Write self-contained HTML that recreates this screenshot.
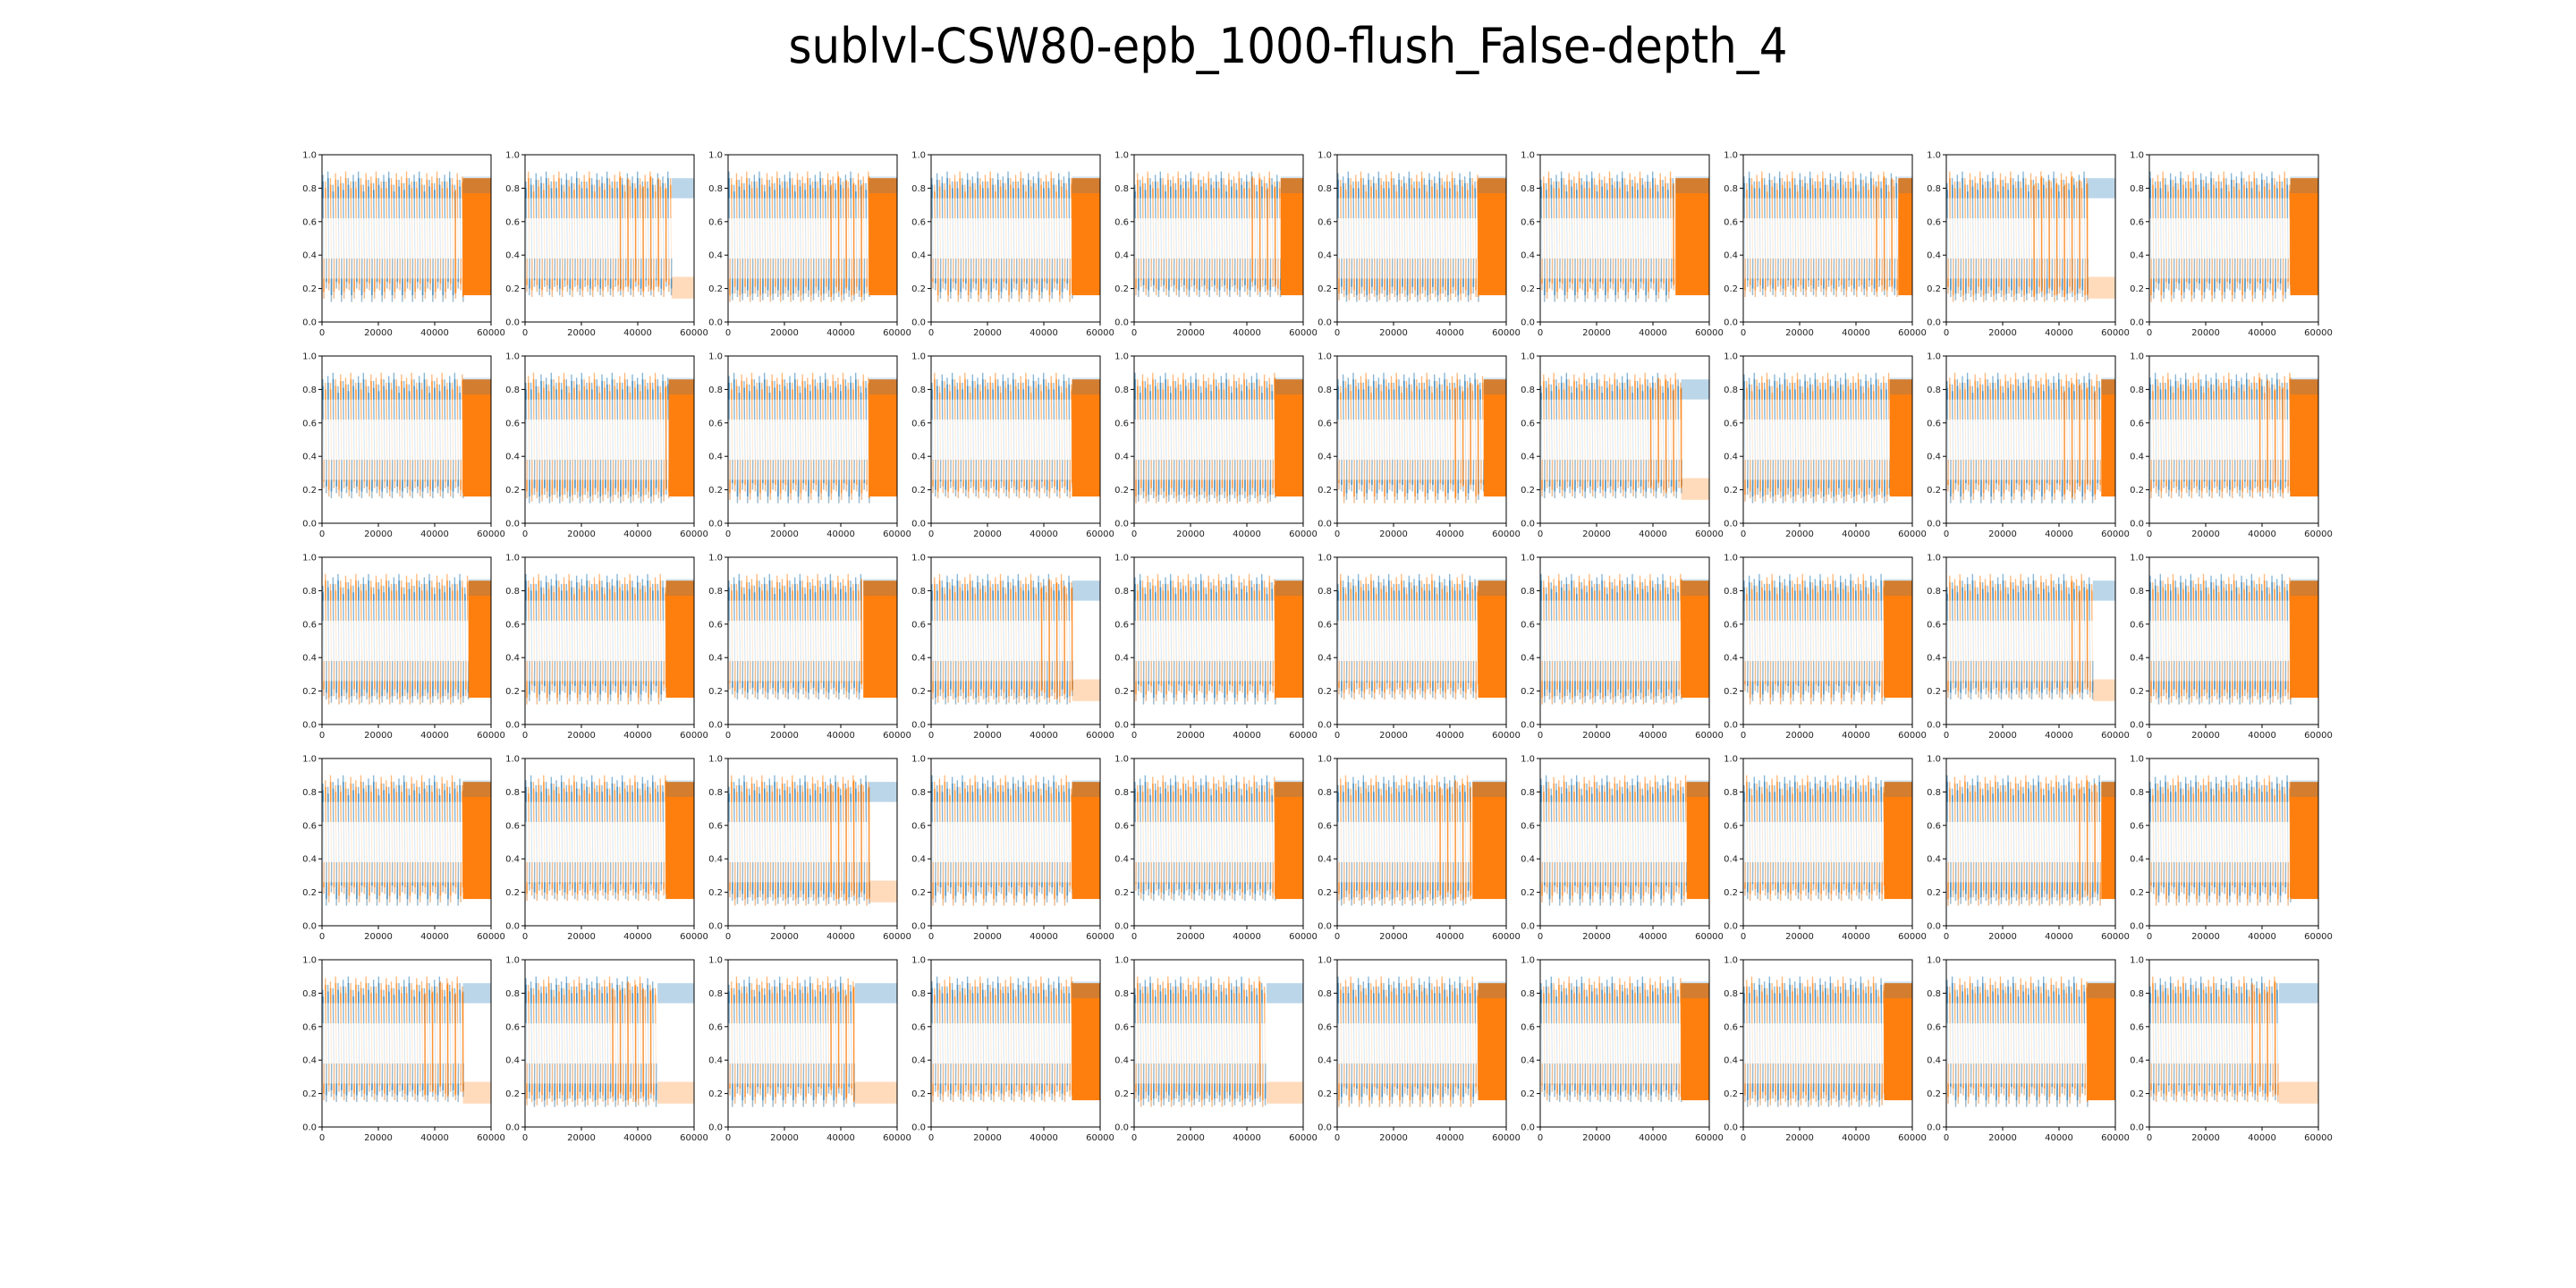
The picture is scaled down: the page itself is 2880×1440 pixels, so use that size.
<!DOCTYPE html>
<html><head><meta charset="utf-8"><style>
html,body{margin:0;padding:0;background:#fff}
svg{display:block}
</style></head><body>
<svg id="fig" width="2880" height="1440" viewBox="0 0 2880 1440" xmlns="http://www.w3.org/2000/svg">
<rect width="2880" height="1440" fill="#fff"/>
<text x="1440" y="70" text-anchor="middle" font-family="DejaVu Sans, Liberation Sans, sans-serif" font-size="54" textLength="1117" lengthAdjust="spacingAndGlyphs" fill="#000">sublvl-CSW80-epb_1000-flush_False-depth_4</text>
<g id="plots"></g>
</svg>
<script>
// x-position (in steps) where the dense orange block starts; 0 = none
const denseStart = [
50000,0,50000,50000,52000,50000,48000,55000,0,50000,
50000,51000,50000,50000,50000,52000,0,52000,55000,50000,
52000,50000,48000,0,50000,50000,50000,50000,0,50000,
50000,50000,0,50000,50000,48000,52000,50000,55000,50000,
0,0,0,50000,0,50000,50000,50000,50000,0];
// x-position where solid orange stripes begin
const stripeStart = [
46000,33000,35000,48000,40000,48000,46000,45000,30000,48000,
48000,49000,48000,48000,48000,40000,38000,50000,40000,38000,
50000,48000,46000,38000,48000,48000,48000,48000,42000,48000,
48000,48000,35000,48000,48000,35000,50000,48000,45000,48000,
35000,30000,35000,48000,44000,48000,48000,48000,48000,35000];
// x-position after which the series split (blue high, orange low); 0 = none
const splitStart = [
0,52000,0,0,0,0,0,0,50000,0,
0,0,0,0,0,0,50000,0,0,0,
0,0,0,50000,0,0,0,0,52000,0,
0,0,50000,0,0,0,0,0,0,0,
50000,47000,45000,0,47000,0,0,0,0,46000];
const hiPeaks = [0.88,0.84,0.9,0.86,0.82,0.89,0.85,0.87,0.83,0.9,0.86,0.84];
const loPeaks = [0.14,0.18,0.12,0.2,0.16,0.13,0.19,0.15,0.17,0.12,0.21,0.15];
const xTicks = [0,20000,40000,60000];
const yTicks = [0.0,0.2,0.4,0.6,0.8,1.0];

const NS="http://www.w3.org/2000/svg";
const root=document.getElementById('plots');
const BLUE="#1f77b4", ORANGE="#ff7f0e";
function el(t,a,p){const e=document.createElementNS(NS,t);for(const k in a)e.setAttribute(k,a[k]);p.appendChild(e);return e;}

for(let i=0;i<50;i++){
  const r=Math.floor(i/10), c=i%10;
  const L=360+227*c, T=173+225*r, W=189, H=187;
  const sx=v=>L+v/60000*W, sy=v=>T+H-v*H;
  const g=el('g',{},root);
  
  
  const ds=denseStart[i], ss=stripeStart[i], sp=splitStart[i];
  const endOsc = ds>0?ds:(sp>0?sp:60000);
  const lines=el('g',{},g);
  
  
  let k=0;
  for(let x=300;x<endOsc;x+=900,k++){
    const hi=hiPeaks[(k+i)%hiPeaks.length], lo=loPeaks[(k*3+i)%loPeaks.length];
    const colA=(k%2===0)?BLUE:ORANGE, colB=(k%2===0)?ORANGE:BLUE;
    const ln=el('line',{x1:sx(x),y1:sy(hi),x2:sx(x+450),y2:sy(lo),stroke:colA,'stroke-width':1,'stroke-opacity':0.18},lines);
    
    
    const t1=el('line',{x1:sx(x),y1:sy(hi),x2:sx(x+120),y2:sy(0.62),stroke:colA,'stroke-width':1.4,'stroke-opacity':0.45},lines);
    
    
    const t1b=el('line',{x1:sx(x+60),y1:sy(hi-0.04),x2:sx(x+100),y2:sy(0.74),stroke:colA,'stroke-width':1.8,'stroke-opacity':0.55},lines);
    
    
    const t2=el('line',{x1:sx(x+300),y1:sy(lo),x2:sx(x+420),y2:sy(0.38),stroke:colB,'stroke-width':1.4,'stroke-opacity':0.45},lines);
    
    
    const t2b=el('line',{x1:sx(x+340),y1:sy(lo+0.04),x2:sx(x+380),y2:sy(0.26),stroke:colB,'stroke-width':1.8,'stroke-opacity':0.55},lines);
    
    
    if(x>=ss && k%3===1){
      const s=el('rect',{x:sx(x),y:sy(hi-0.03),width:Math.max(1.5,sx(x+350)-sx(x)),height:sy(lo+0.03)-sy(hi-0.03),fill:ORANGE,'fill-opacity':0.8},lines);
      
      
    }
  }
  if(ds>0){
    const d=el('rect',{x:sx(ds),y:sy(0.86),width:sx(60000)-sx(ds),height:sy(0.16)-sy(0.86),fill:ORANGE},g);
    
    
    const b=el('rect',{x:sx(ds),y:sy(0.87),width:sx(60000)-sx(ds),height:sy(0.77)-sy(0.87),fill:BLUE,'fill-opacity':0.2},g);
    
    
  }
  if(sp>0){
    const b=el('rect',{x:sx(sp),y:sy(0.86),width:sx(60000)-sx(sp),height:sy(0.74)-sy(0.86),fill:BLUE,'fill-opacity':0.3},g);
    
    
    const o=el('rect',{x:sx(sp),y:sy(0.27),width:sx(60000)-sx(sp),height:sy(0.14)-sy(0.27),fill:ORANGE,'fill-opacity':0.28},g);
    
    
  }
  const fr=el('rect',{x:L,y:T,width:W,height:H,fill:'none',stroke:'#000','stroke-width':1},g);
  
  
  xTicks.forEach(v=>{
    const tk=el('line',{x1:sx(v),y1:T+H,x2:sx(v),y2:T+H+4,stroke:'#000','stroke-width':1},g);
    
    
    const tx=el('text',{x:sx(v),y:T+H+15,'text-anchor':'middle','font-family':'DejaVu Sans, Liberation Sans, sans-serif','font-size':10,fill:'#222'},g);
    tx.textContent=String(v);
    
    
  });
  yTicks.forEach(v=>{
    const tk=el('line',{x1:L-4,y1:sy(v),x2:L,y2:sy(v),stroke:'#000','stroke-width':1},g);
    
    
    const tx=el('text',{x:L-6,y:sy(v)+3.5,'text-anchor':'end','font-family':'DejaVu Sans, Liberation Sans, sans-serif','font-size':10,fill:'#222'},g);
    tx.textContent=v.toFixed(1);
    
    
  });
}
</script>
</body></html>
